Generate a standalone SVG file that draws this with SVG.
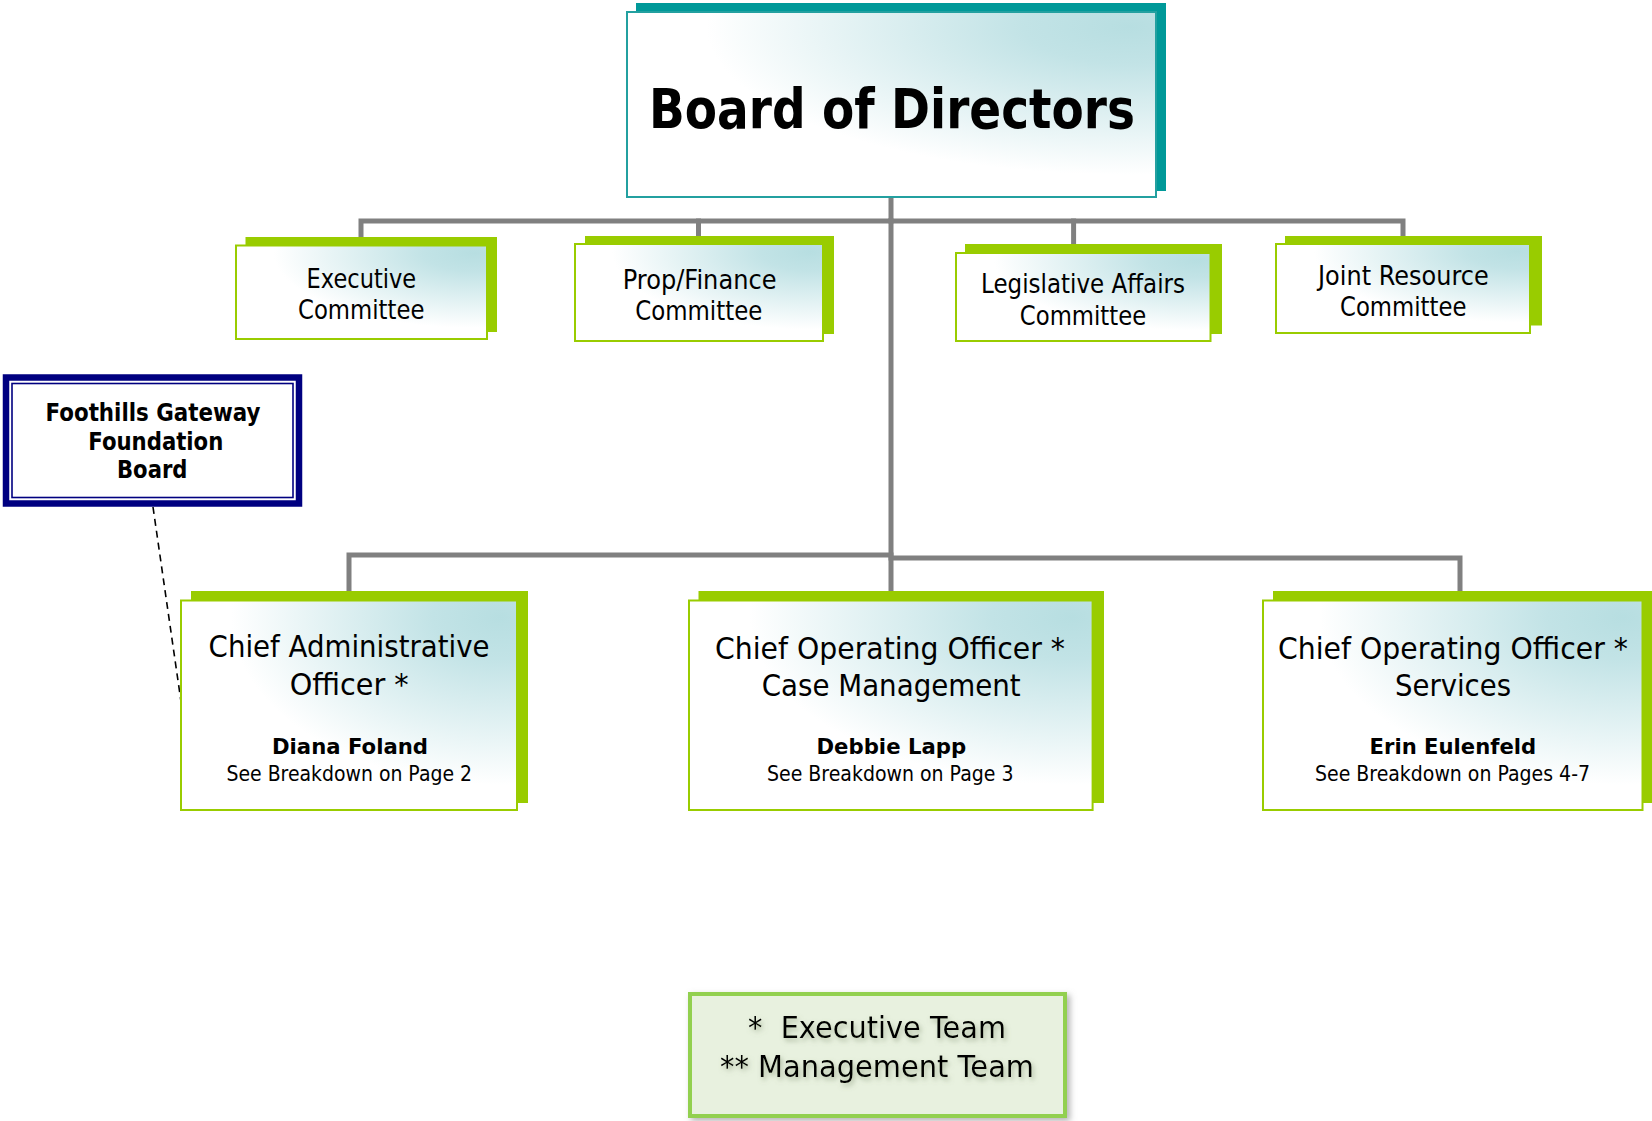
<svg xmlns="http://www.w3.org/2000/svg" width="1652" height="1121" viewBox="0 0 1652 1121">
<style>
.conn{stroke:#808080;stroke-width:5;fill:none;stroke-linecap:square}
.dash{stroke:#000;stroke-width:1.6;fill:none;stroke-dasharray:7 5}
.gsh{fill:#99cc00}
.gbox{fill:url(#grad);stroke:#99cc00;stroke-width:2}
.tsh{fill:#009999}
.tbox{fill:url(#grad);stroke:#23a0a0;stroke-width:2}
.t{font-family:"DejaVu Sans","Liberation Sans",sans-serif;fill:#000}
.b{font-weight:bold}
.c{font-size:27px}
.big{font-size:31px}
.nm{font-size:22px;font-weight:bold}
.sm{font-size:20.5px}
</style>
<defs>
<radialGradient id="grad" cx="0.95" cy="0.08" r="0.8">
<stop offset="0" stop-color="#b7dee1"/>
<stop offset="0.25" stop-color="#c2e3e6"/>
<stop offset="1" stop-color="#ffffff"/>
</radialGradient>
<filter id="boxsh" x="-10%" y="-20%" width="125%" height="150%">
<feGaussianBlur in="SourceAlpha" stdDeviation="3"/>
<feOffset dx="3" dy="3" result="o"/>
<feFlood flood-color="#808080" flood-opacity="0.6"/>
<feComposite in2="o" operator="in" result="s"/>
<feMerge><feMergeNode in="s"/><feMergeNode in="SourceGraphic"/></feMerge>
</filter>
<filter id="txtsh" x="-10%" y="-30%" width="125%" height="170%">
<feGaussianBlur in="SourceAlpha" stdDeviation="2.5"/>
<feOffset dx="2" dy="3" result="o"/>
<feFlood flood-color="#7a8a6a" flood-opacity="0.55"/>
<feComposite in2="o" operator="in" result="s"/>
<feMerge><feMergeNode in="s"/><feMergeNode in="SourceGraphic"/></feMerge>
</filter>
</defs>

<g id="connectors">
<polyline class="conn" points="891,197 891,221 361,221 361,237"/>
<polyline class="conn" points="698.5,221 698.5,236"/>
<polyline class="conn" points="891,221 1403,221 1403,236"/>
<polyline class="conn" points="1073.6,221 1073.6,244"/>
<polyline class="conn" points="891,221 891,591"/>
<polyline class="conn" points="891,555 349,555 349,591"/>
<polyline class="conn" points="891,558 1460,558 1460,591"/>
<line class="dash" x1="153" y1="507" x2="181.5" y2="705"/>
</g>

<g id="board">
<rect class="tsh" x="636" y="3" width="530" height="188"/>
<rect class="tbox" x="627" y="12" width="529" height="185"/>
<text class="t b" x="649" y="127.5" font-size="56" textLength="486" lengthAdjust="spacingAndGlyphs">Board of Directors</text>
</g>

<g id="executive-committee">
<rect class="gsh" x="245.5" y="237" width="251.5" height="95"/>
<rect class="gbox" x="236" y="245.5" width="251" height="93.5"/>
<text class="t c" x="306.6" y="287.6" textLength="109.6" lengthAdjust="spacingAndGlyphs">Executive</text>
<text class="t c" x="298" y="319" textLength="126.4" lengthAdjust="spacingAndGlyphs">Committee</text>
</g>

<g id="prop-finance-committee">
<rect class="gsh" x="585" y="236" width="249" height="98"/>
<rect class="gbox" x="575" y="244" width="248" height="97"/>
<text class="t c" x="622.7" y="288.7" textLength="153.8" lengthAdjust="spacingAndGlyphs">Prop/Finance</text>
<text class="t c" x="635.3" y="320" textLength="127" lengthAdjust="spacingAndGlyphs">Committee</text>
</g>

<g id="legislative-affairs-committee">
<rect class="gsh" x="965" y="244" width="257" height="90"/>
<rect class="gbox" x="956" y="253" width="254.5" height="88"/>
<text class="t c" x="981" y="293" textLength="204" lengthAdjust="spacingAndGlyphs">Legislative Affairs</text>
<text class="t c" x="1019.8" y="324.5" textLength="126.4" lengthAdjust="spacingAndGlyphs">Committee</text>
</g>

<g id="joint-resource-committee">
<rect class="gsh" x="1285" y="236" width="257" height="89.5"/>
<rect class="gbox" x="1276" y="244" width="254" height="89"/>
<text class="t c" x="1318" y="284.5" textLength="170.7" lengthAdjust="spacingAndGlyphs">Joint Resource</text>
<text class="t c" x="1340" y="316" textLength="126.4" lengthAdjust="spacingAndGlyphs">Committee</text>
</g>

<g id="foundation-board">
<rect x="6" y="377.5" width="293" height="126" fill="#ffffff" stroke="#000080" stroke-width="6.5"/>
<rect x="12" y="383.5" width="281" height="114" fill="none" stroke="#000080" stroke-width="1.6"/>
<text class="t b" font-size="24" x="45.5" y="421" textLength="215" lengthAdjust="spacingAndGlyphs">Foothills Gateway</text>
<text class="t b" font-size="24" x="88.3" y="450" textLength="135" lengthAdjust="spacingAndGlyphs">Foundation</text>
<text class="t b" font-size="24" x="117" y="477.7" textLength="70.5" lengthAdjust="spacingAndGlyphs">Board</text>
</g>

<g id="chief-administrative-officer">
<rect class="gsh" x="191" y="591" width="337" height="212"/>
<rect class="gbox" x="181" y="600.5" width="336" height="209.5"/>
<text class="t big" x="208.6" y="657" textLength="281" lengthAdjust="spacingAndGlyphs">Chief Administrative</text>
<text class="t big" x="289.7" y="694.5" textLength="119" lengthAdjust="spacingAndGlyphs">Officer *</text>
<text class="t nm" x="272" y="754" textLength="156" lengthAdjust="spacingAndGlyphs">Diana Foland</text>
<text class="t sm" x="226.5" y="781" textLength="245.5" lengthAdjust="spacingAndGlyphs">See Breakdown on Page 2</text>
</g>

<g id="coo-case-management">
<rect class="gsh" x="698.5" y="591" width="405.5" height="212"/>
<rect class="gbox" x="689" y="600.5" width="403.6" height="209.5"/>
<text class="t big" x="715" y="658.5" textLength="350" lengthAdjust="spacingAndGlyphs">Chief Operating Officer *</text>
<text class="t big" x="761.7" y="696.4" textLength="259" lengthAdjust="spacingAndGlyphs">Case Management</text>
<text class="t nm" x="816.5" y="753.5" textLength="149.6" lengthAdjust="spacingAndGlyphs">Debbie Lapp</text>
<text class="t sm" x="767" y="780.5" textLength="246.5" lengthAdjust="spacingAndGlyphs">See Breakdown on Page 3</text>
</g>

<g id="coo-services">
<rect class="gsh" x="1273" y="591" width="379" height="212"/>
<rect class="gbox" x="1263" y="600.5" width="379.5" height="209.5"/>
<text class="t big" x="1278" y="658.5" textLength="350" lengthAdjust="spacingAndGlyphs">Chief Operating Officer *</text>
<text class="t big" x="1395" y="696" textLength="116" lengthAdjust="spacingAndGlyphs">Services</text>
<text class="t nm" x="1369.6" y="753.5" textLength="166.5" lengthAdjust="spacingAndGlyphs">Erin Eulenfeld</text>
<text class="t sm" x="1315" y="780.5" textLength="275" lengthAdjust="spacingAndGlyphs">See Breakdown on Pages 4-7</text>
</g>

<g id="legend">
<rect x="690" y="994" width="375" height="122" fill="#e8f1df" stroke="#92d050" stroke-width="4" filter="url(#boxsh)"/>
<g filter="url(#txtsh)">
<text class="t" font-size="31" x="748" y="1038" textLength="258" lengthAdjust="spacingAndGlyphs" xml:space="preserve">*  Executive Team</text>
<text class="t" font-size="31" x="720" y="1077" textLength="314" lengthAdjust="spacingAndGlyphs">** Management Team</text>
</g>
</g>
</svg>
